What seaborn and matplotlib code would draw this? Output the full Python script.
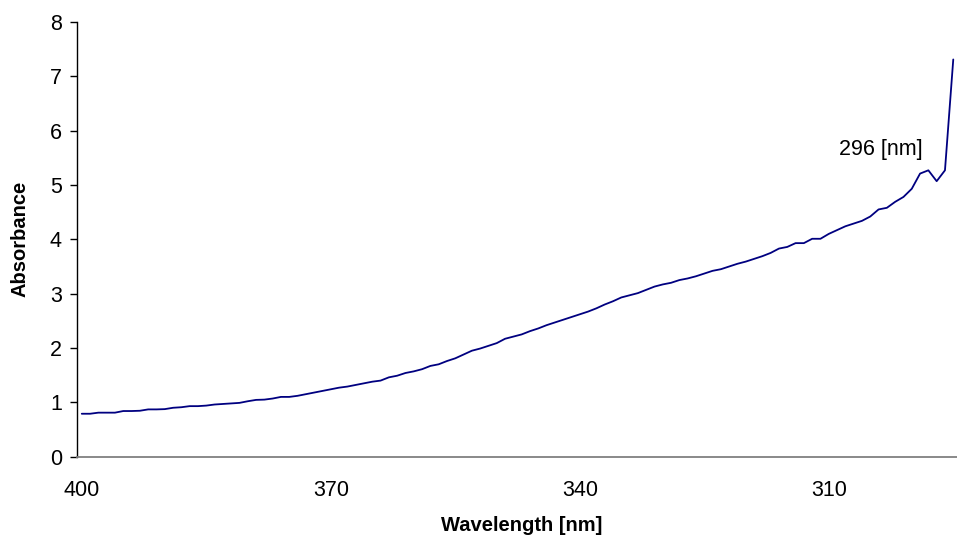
import numpy as np
import pandas as pd
import matplotlib
matplotlib.use("Agg")
import matplotlib.pyplot as plt
import seaborn as sns

# ─────────────────────────────────────────
# DATA
# ─────────────────────────────────────────

wavelength = list(range(400, 294, -1))   # 400 ... 295 nm, 1 nm step

absorbance = [
    0.79, 0.79, 0.81, 0.81, 0.81, 0.84, 0.84, 0.845, 0.87, 0.87,   # 400-391
    0.875, 0.90, 0.91, 0.93, 0.93, 0.94, 0.96, 0.97, 0.98, 0.99,   # 390-381
    1.02, 1.045, 1.05, 1.07, 1.10, 1.10, 1.12, 1.15, 1.18, 1.21,   # 380-371
    1.24, 1.27, 1.29, 1.32, 1.35, 1.38, 1.40, 1.46, 1.49, 1.54,    # 370-361
    1.57, 1.61, 1.67, 1.70, 1.76, 1.81, 1.88, 1.95, 1.99, 2.04,    # 360-351
    2.09, 2.17, 2.21, 2.25, 2.31, 2.36, 2.42, 2.47, 2.52, 2.57,    # 350-341
    2.62, 2.67, 2.73, 2.80, 2.86, 2.93, 2.97, 3.01, 3.07, 3.13,    # 340-331
    3.17, 3.20, 3.25, 3.28, 3.32, 3.37, 3.42, 3.45, 3.50, 3.55,    # 330-321
    3.59, 3.64, 3.69, 3.75, 3.83, 3.86, 3.93, 3.93, 4.01, 4.01,    # 320-311
    4.10, 4.17, 4.24, 4.29, 4.34, 4.42, 4.55, 4.58, 4.69, 4.78,    # 310-301
    4.93, 5.21, 5.27, 5.07, 5.27, 7.31,                            # 300-295
]

x_ticks = [400, 370, 340, 310]
y_ticks = [0, 1, 2, 3, 4, 5, 6, 7, 8]
peak_label = "296 [nm]"

df = pd.DataFrame({"Wavelength": wavelength, "Absorbance": absorbance})

# ─────────────────────────────────────────
# STYLE
# ─────────────────────────────────────────

sns.set_style("white")
plt.rcParams["font.family"] = ["Liberation Sans", "DejaVu Sans"]
plt.rcParams["text.color"] = "black"
plt.rcParams["axes.labelcolor"] = "black"
plt.rcParams["xtick.color"] = "black"
plt.rcParams["ytick.color"] = "black"

fig = plt.figure(figsize=(9.57, 5.36), dpi=100)
ax = fig.add_axes([0.0805, 0.148, 0.9195, 0.811])

sns.lineplot(data=df, x="Wavelength", y="Absorbance", ax=ax,
             color="#000080", linewidth=1.3)

# reversed wavelength axis (Excel style)
ax.set_xlim(400.57, 294.55)
ax.set_ylim(0, 8)
ax.set_xticks(x_ticks)
ax.set_yticks(y_ticks)

for s in ["top", "right"]:
    ax.spines[s].set_visible(False)
ax.spines["left"].set_color("black")
ax.spines["left"].set_linewidth(1.0)
ax.spines["bottom"].set_color("#808080")
ax.spines["bottom"].set_linewidth(1.3)

ax.tick_params(axis="y", left=True, length=5, width=1, color="black",
               labelcolor="black", pad=6, labelsize=15.5)
ax.tick_params(axis="x", bottom=False, length=0, pad=17,
               labelcolor="black", labelsize=15.5)

ax.set_xlabel("Wavelength [nm]", fontsize=14.5, fontweight="bold")
ax.set_ylabel("Absorbance", fontsize=14.5, fontweight="bold")
ax.xaxis.set_label_coords(0.505, -0.136)
ax.yaxis.set_label_coords(-0.054, 0.5)

ax.text(303.7, 5.65, peak_label, fontsize=15.5, ha="center", va="center")

fig.savefig("out.png", dpi=100)
